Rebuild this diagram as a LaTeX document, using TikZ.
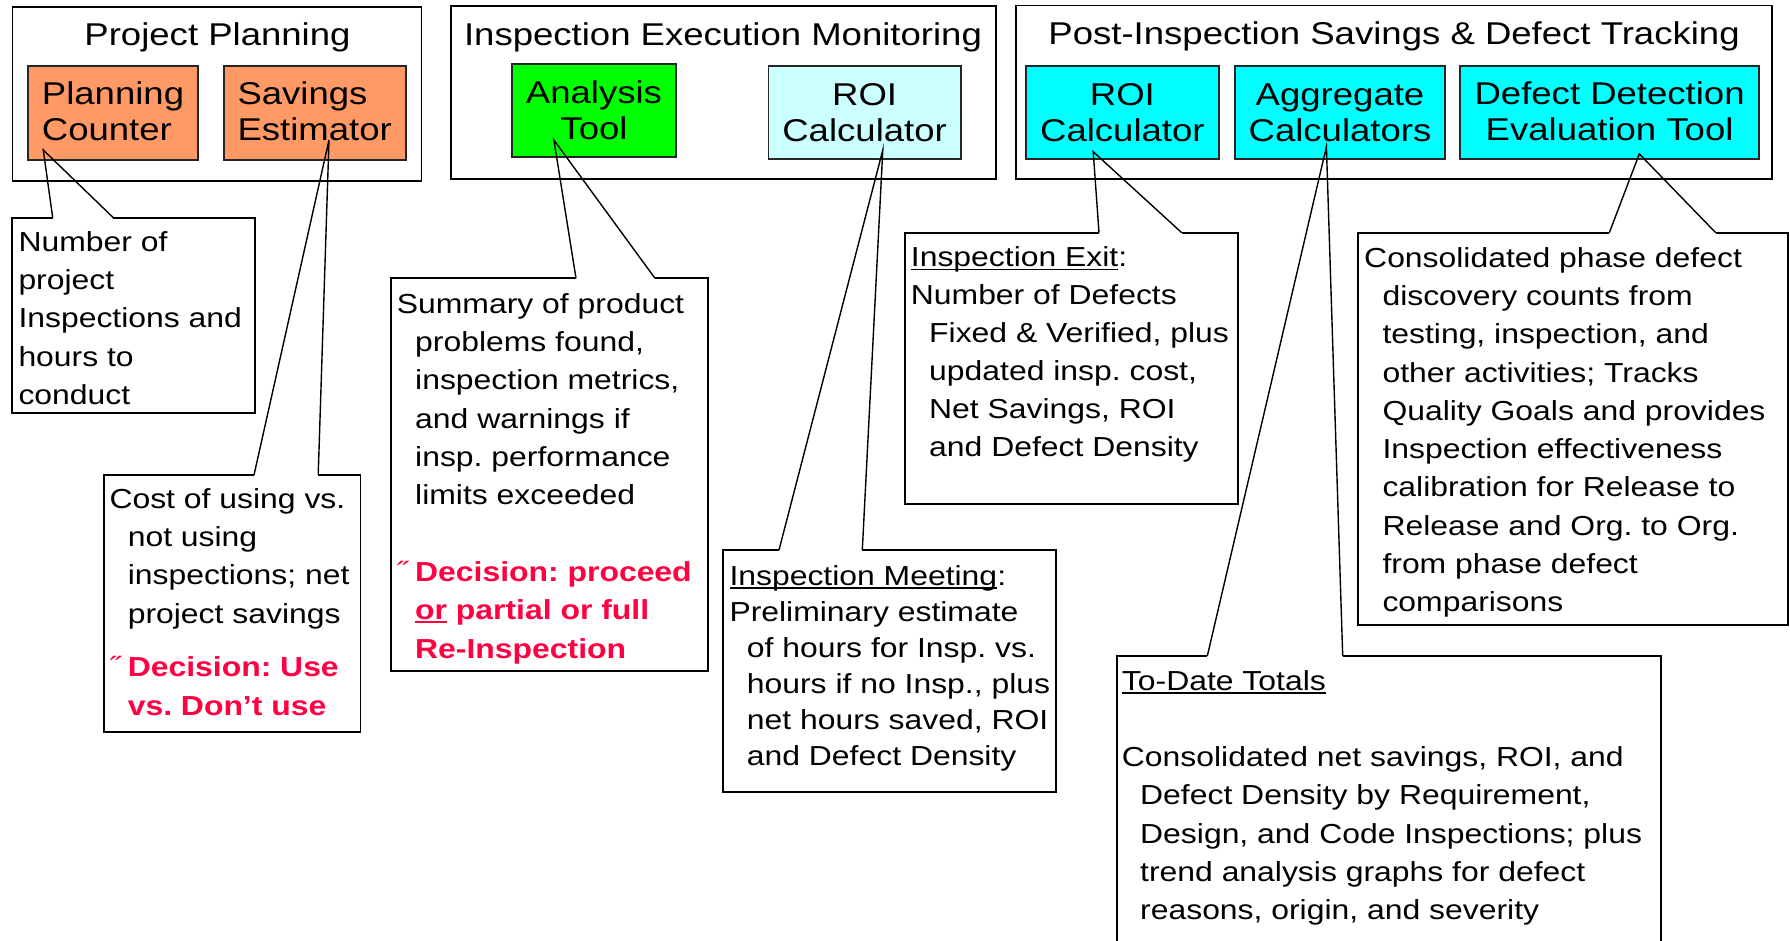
\documentclass[tikz,border=0pt]{standalone}
\usepackage{fontspec}
\setmainfont{Liberation Sans}[FakeStretch=1.16]
\usetikzlibrary{calc}
\frenchspacing

\definecolor{planfill}{HTML}{FF9966}
\definecolor{toolgreen}{HTML}{00FF00}
\definecolor{roilight}{HTML}{CCFFFF}
\definecolor{roicyan}{HTML}{00FFFF}
\definecolor{decred}{HTML}{FF0040}

% type sizes (1pt = 1px of the final image)
\newcommand\hdfont{\fontsize{31.5}{36}\selectfont}
\newcommand\notefont[1]{\fontsize{27.5}{#1}\selectfont}

% underline sitting just under the baseline
\newsavebox\ulbox
\newcommand\ulin[2][1.8pt]{\leavevmode\sbox\ulbox{#2}\rlap{\rule[-3.6pt]{\wd\ulbox}{#1}}\usebox\ulbox}
\newcommand\ind{\hspace*{18.3pt}}
\newcommand\decmark{\makebox[18.3pt][l]{\mdseries ˝}}

\tikzset{
  grp/.style={draw, line width=1.8pt, inner sep=0pt, outer sep=0pt, anchor=north west},
  tool/.style={draw=black!85, line width=1.8pt, inner sep=0pt, outer sep=0pt, anchor=north west},
  notebox/.style={inner sep=0pt, outer sep=0pt, anchor=north west},
  noteedge/.style={line width=1.8pt, line join=miter},
  pointer/.style={line width=1.4pt, line join=miter},
  lbl/.style={inner sep=0pt, anchor=base west},
  clbl/.style={inner sep=0pt, anchor=base},
}

% rectangle outline with an open wedge pointing at a tool box
\newcommand\drawcallout[4]{%
  \draw[noteedge] ($(#1.north west)+(#3,0)$) -- (#1.north east) -- (#1.south east)
        -- (#1.south west) -- (#1.north west) -- ($(#1.north west)+(#2,0)$);
  \draw[pointer] ($(#1.north west)+(#2,0)$) -- (#4) -- ($(#1.north west)+(#3,0)$);}

\begin{document}
\begin{tikzpicture}[x=1pt,y=-1pt]
\useasboundingbox (0,0) rectangle (1790,940);

% ---------- group frames ----------
\node[grp, minimum width=409pt,   minimum height=174pt]   (g1) at (12.5,6.7) {};
\node[grp, minimum width=545pt,   minimum height=173.3pt] (g2) at (451,5.7) {};
\node[grp, minimum width=756.3pt, minimum height=173.5pt] (g3) at (1016,5.5) {};

\node[clbl] (g1t) at (217.5,45) {\hdfont Project Planning};
\node[clbl] (g2t) at (723,45)   {\hdfont Inspection Execution Monitoring};
\node[clbl] (g3t) at (1394,44)  {\hdfont Post-Inspection Savings \& Defect Tracking};

% ---------- tool boxes ----------
\node[tool, fill=planfill,  minimum width=170.6pt, minimum height=94pt] (pc)  at (27.7,66) {};
\node[tool, fill=planfill,  minimum width=182.6pt, minimum height=94pt] (se)  at (223.7,66) {};
\node[tool, fill=toolgreen, minimum width=164pt,   minimum height=93pt] (at)  at (512,64.3) {};
\node[tool, fill=roilight,  minimum width=192.5pt, minimum height=93pt] (rc1) at (768.4,66.3) {};
\node[tool, fill=roicyan,   minimum width=192.4pt, minimum height=93.3pt] (rc2) at (1026.2,66) {};
\node[tool, fill=roicyan,   minimum width=210.5pt, minimum height=93.3pt] (ac)  at (1234.8,66) {};
\node[tool, fill=roicyan,   minimum width=299.2pt, minimum height=93pt]   (dd)  at (1460,66.3) {};

\node[lbl]  (pcl)  at (41.7,104)   {\parbox[t]{160pt}{\hdfont Planning\\Counter}};
\node[lbl]  (sel)  at (237.3,104)  {\parbox[t]{170pt}{\hdfont Savings\\Estimator}};
\node[clbl] (atl)  at (594,103.3)  {\parbox[t]{200pt}{\centering\hdfont Analysis\\Tool}};
\node[clbl] (rc1l) at (864.6,105)  {\parbox[t]{200pt}{\centering\hdfont ROI\\Calculator}};
\node[clbl] (rc2l) at (1122.4,105) {\parbox[t]{200pt}{\centering\hdfont ROI\\Calculator}};
\node[clbl] (acl)  at (1340,105)   {\parbox[t]{220pt}{\centering\hdfont Aggregate\\Calculators}};
\node[clbl] (ddl)  at (1609.6,104) {\parbox[t]{300pt}{\centering\hdfont Defect Detection\\Evaluation Tool}};

% ---------- pointer tips inside the tool boxes ----------
\coordinate (pcTip)  at (43.3,150);
\coordinate (seTip)  at (329,140);
\coordinate (atTip)  at (553.9,140);
\coordinate (rc1Tip) at (882.8,150);
\coordinate (rc2Tip) at (1093.2,151.7);
\coordinate (acTip)  at (1326.4,146.7);
\coordinate (ddTip)  at (1639.3,153.9);

% ---------- callouts ----------
\node[notebox, minimum width=242.7pt, minimum height=195.3pt] (c1) at (12.3,217.7) {};
\node[notebox, minimum width=256.6pt, minimum height=256.7pt] (c2) at (103.8,475) {};
\node[notebox, minimum width=317.3pt, minimum height=392.7pt] (c3) at (391,278.3) {};
\node[notebox, minimum width=332.7pt, minimum height=242.3pt] (c4) at (723.3,550) {};
\node[notebox, minimum width=332.7pt, minimum height=271.6pt] (c5) at (905,232.7) {};
\node[notebox, minimum width=429.4pt, minimum height=392.6pt] (c6) at (1358.3,232.7) {};
\node[notebox, minimum width=544.3pt, minimum height=300pt]   (c7) at (1116.7,656) {};

\drawcallout{c1}{40.4}{101}{pcTip}
\drawcallout{c2}{150.2}{214.4}{seTip}
\drawcallout{c3}{185}{264}{atTip}
\drawcallout{c4}{55.7}{139}{rc1Tip}
\drawcallout{c5}{194}{276.7}{rc2Tip}
\drawcallout{c6}{251}{357.4}{ddTip}
\drawcallout{c7}{90.6}{226}{acTip}

% ---------- callout texts ----------
\node[lbl] (c1t) at (18.3,251.7) {\parbox[t]{240pt}{\notefont{38.1}%
  Number of\\project\\Inspections and\\hours to\\conduct}};

\node[lbl] (c2t) at (109.3,508.3) {\parbox[t]{250pt}{\notefont{38.3}%
  Cost of using vs.\\\ind not using\\\ind inspections; net\\\ind project savings\\[15.2pt]%
  {\color{decred}\bfseries\decmark Decision: Use\\\ind vs. Don’t use}}};

\node[lbl] (c3t) at (396.7,313.3) {\parbox[t]{310pt}{\notefont{38.3}%
  Summary of product\\\ind problems found,\\\ind inspection metrics,\\\ind and warnings if\\%
  \ind insp. performance\\\ind limits exceeded\\[38.3pt]%
  {\color{decred}\bfseries\decmark Decision: proceed\\\ind \ulin[2.4pt]{or} partial or full\\\ind Re-Inspection}}};

\node[lbl] (c4t) at (729.3,585) {\parbox[t]{330pt}{\notefont{36}%
  \ulin{Inspection Meeting}:\\Preliminary estimate\\\hspace*{17.4pt}of hours for Insp. vs.\\%
  \hspace*{17.4pt}hours if no Insp., plus\\\hspace*{17.4pt}net hours saved, ROI\\%
  \hspace*{17.4pt}and Defect Density}};

\node[lbl] (c5t) at (910.7,266.7) {\parbox[t]{330pt}{\notefont{38}%
  \ulin{Inspection Exit}:\\Number of Defects\\\ind Fixed \& Verified, plus\\%
  \ind updated insp. cost,\\\ind Net Savings, ROI\\\ind and Defect Density}};

\node[lbl] (c6t) at (1364,267.3) {\parbox[t]{420pt}{\notefont{38.25}%
  Consolidated phase defect\\\ind discovery counts from\\\ind testing, inspection, and\\%
  \ind other activities; Tracks\\\ind Quality Goals and provides\\\ind Inspection effectiveness\\%
  \ind calibration for Release to\\\ind Release and Org. to Org.\\\ind from phase defect\\%
  \ind comparisons}};

\node[lbl] (c7t) at (1121.7,690) {\parbox[t]{540pt}{\notefont{38.3}%
  \ulin{To-Date Totals}\\[38.3pt]%
  Consolidated net savings, ROI, and\\\ind Defect Density by Requirement,\\%
  \ind Design, and Code Inspections; plus\\\ind trend analysis graphs for defect\\%
  \ind reasons, origin, and severity}};
\end{tikzpicture}
\end{document}
